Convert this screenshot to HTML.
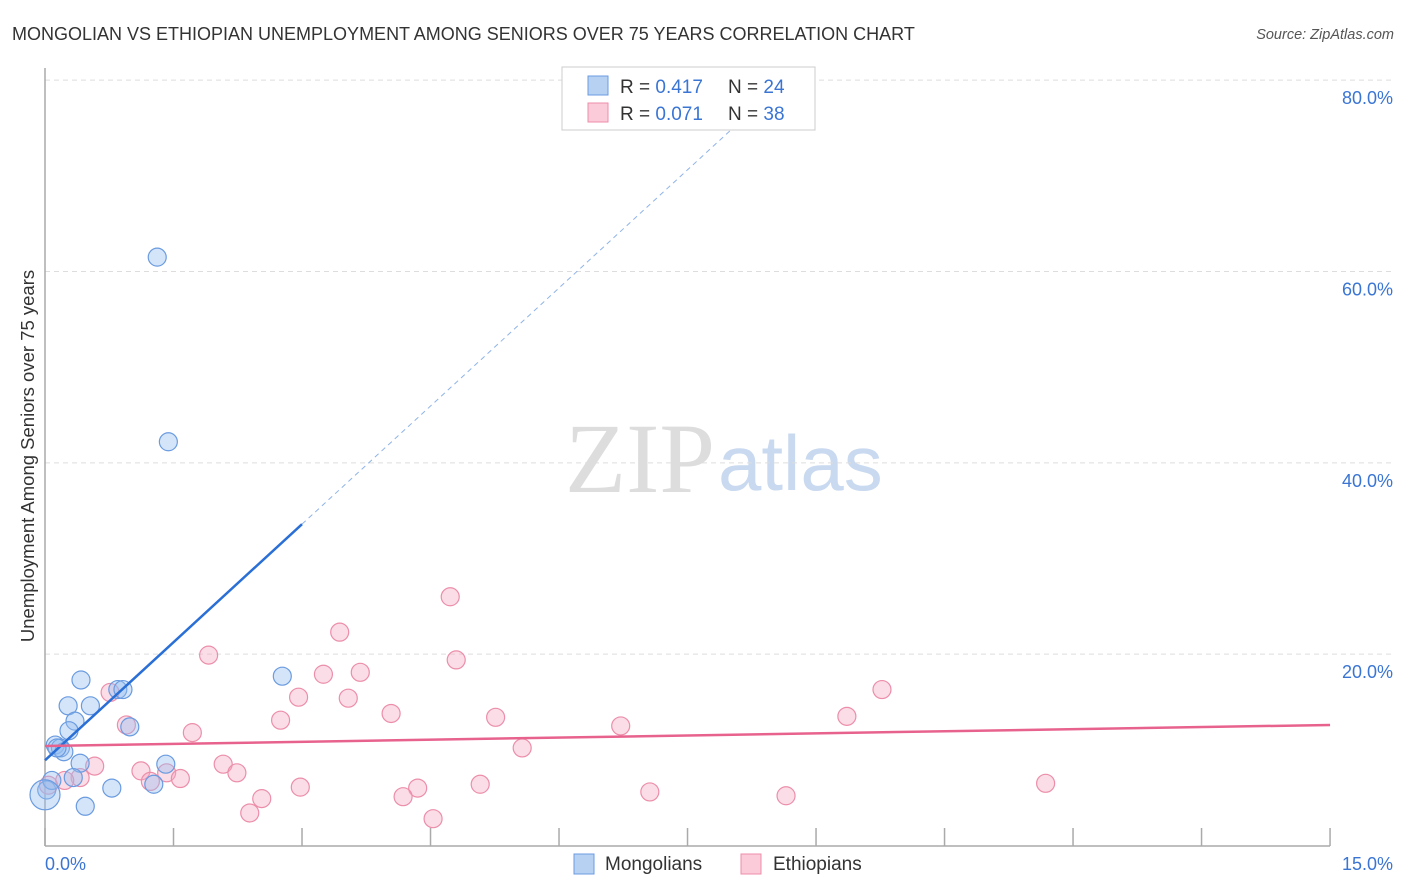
<!DOCTYPE html>
<html><head><meta charset="utf-8"><style>
body{margin:0;background:#fff;font-family:"Liberation Sans",sans-serif;}
#wrap{position:relative;width:1406px;height:892px;overflow:hidden}
</style></head><body>
<div id="wrap">
<svg id="svg" width="1406" height="892" xmlns="http://www.w3.org/2000/svg" font-family="Liberation Sans, sans-serif">
<text x="12" y="40" font-size="18" fill="#333">MONGOLIAN VS ETHIOPIAN UNEMPLOYMENT AMONG SENIORS OVER 75 YEARS CORRELATION CHART</text>
<text x="1394" y="39" font-size="14.5" fill="#555" font-style="italic" text-anchor="end">Source: ZipAtlas.com</text>
<text x="715" y="492" font-size="100" fill="#ddd" text-anchor="end" font-family="Liberation Serif, serif">ZIP</text>
<text x="718" y="490" font-size="78" fill="#c9d9ef">atlas</text>
<g id="grid"></g><g id="axes"></g><g id="marks"></g>
<text x="34" y="456" font-size="18.5" fill="#333" text-anchor="middle" transform="rotate(-90 34 456)">Unemployment Among Seniors over 75 years</text>
<g>
<rect x="562" y="67" width="253" height="63" fill="#fff" stroke="#ccc"/>
<rect x="588" y="76" width="20" height="19" fill="#b7d1f3" stroke="#6a9be0"/>
<rect x="588" y="103" width="20" height="19" fill="#fbcbda" stroke="#ec8eaa"/>
<text x="620" y="93" font-size="19" fill="#333">R = <tspan fill="#3a75d4">0.417</tspan></text>
<text x="728" y="93" font-size="19" fill="#333">N = <tspan fill="#3a75d4">24</tspan></text>
<text x="620" y="120" font-size="19" fill="#333">R = <tspan fill="#3a75d4">0.071</tspan></text>
<text x="728" y="120" font-size="19" fill="#333">N = <tspan fill="#3a75d4">38</tspan></text>
</g>
<g>
<rect x="574" y="854" width="20" height="20" fill="#b7d1f3" stroke="#6a9be0"/>
<text x="605" y="870" font-size="19" fill="#333">Mongolians</text>
<rect x="741" y="854" width="20" height="20" fill="#fbcbda" stroke="#ec8eaa"/>
<text x="773" y="870" font-size="19" fill="#333">Ethiopians</text>
</g>
</svg>
</div>
<script>
const yTicks=[20,40,60,80];
const yTickLabels=["20.0%","40.0%","60.0%","80.0%"];
const xTickLabels=["0.0%","15.0%"];
const monX=[1.31,1.44,2.77,0.42,0.85,0.91,0.27,0.53,0.35,0.99,0.28,0.12,0.18,0.22,0.14,0.41,1.41,1.27,0.78,0.47,0.33,0.02,0.08,0.0];
const monY=[61.5,42.2,17.7,17.3,16.3,16.3,14.6,14.6,13.0,12.4,12.0,10.5,10.2,9.8,10.2,8.6,8.5,6.4,6.0,4.1,7.1,5.8,6.8,5.3];
const ethX=[4.73,3.44,1.91,4.80,3.25,3.68,2.96,3.54,0.76,9.77,0.95,2.75,4.04,5.26,9.36,6.72,1.72,5.57,2.08,2.24,1.12,1.23,1.42,1.58,0.58,0.41,0.23,2.98,5.08,4.35,4.18,2.53,2.39,4.53,7.06,8.65,11.68,0.04];
const ethY=[26.0,22.3,19.9,19.4,17.9,18.1,15.5,15.4,16.0,16.3,12.6,13.1,13.8,13.4,13.5,12.5,11.8,10.2,8.5,7.6,7.8,6.7,7.6,7.0,8.3,7.1,6.8,6.1,6.4,6.0,5.1,4.9,3.4,2.8,5.6,5.2,6.5,6.3];
const monTrend=[8.9,8.23]; // intercept, slope
const ethTrend=[10.4,12.6]; // y at x=0, y at x=15
const NS="http://www.w3.org/2000/svg";
const X=v=>45+v*85.67, Y=v=>845.5-v*9.567;
function mk(t,a,p){const e=document.createElementNS(NS,t);for(const k in a)e.setAttribute(k,a[k]);p.appendChild(e);return e;}
const grid=document.getElementById('grid'),axes=document.getElementById('axes'),marks=document.getElementById('marks');
yTicks.forEach((t,i)=>{
 const l=mk('line',{x1:45,x2:1393,y1:Y(t),y2:Y(t),stroke:'#ddd','stroke-dasharray':'5,4'},grid);
 
 
 const tx=mk('text',{x:1393,y:Y(t)+24,'font-size':18,fill:'#3a75d4','text-anchor':'end'},grid);
 tx.textContent=yTickLabels[i];
 
 
});
mk('line',{x1:45,x2:45,y1:68,y2:846,stroke:'#aaa','stroke-width':1.5},axes);
mk('line',{x1:45,x2:1330,y1:846,y2:846,stroke:'#aaa','stroke-width':1.5},axes);
for(let i=0;i<=10;i++){mk('line',{x1:X(i*1.5),x2:X(i*1.5),y1:828,y2:846,stroke:'#aaa','stroke-width':1.5},axes);}
let t0=mk('text',{x:45,y:870,'font-size':18,fill:'#3a75d4'},axes);t0.textContent=xTickLabels[0];


let t1=mk('text',{x:1393,y:870,'font-size':18,fill:'#3a75d4','text-anchor':'end'},axes);t1.textContent=xTickLabels[1];


ethX.forEach((x,i)=>{const c=mk('circle',{cx:X(x),cy:Y(ethY[i]),r:9,fill:'rgba(246,170,195,0.4)',stroke:'#ec8eaa','stroke-width':1.2},marks);
 
 });
monX.forEach((x,i)=>{const c=mk('circle',{cx:X(x),cy:Y(monY[i]),r:i==monX.length-1?15:9,fill:'rgba(150,190,240,0.4)',stroke:'#6a9be0','stroke-width':1.2},marks);
 
 });
const mt=x=>monTrend[0]+monTrend[1]*x;
let a=mk('line',{x1:X(0),y1:Y(mt(0)),x2:X(3),y2:Y(mt(3)),stroke:'#2a6fd6','stroke-width':2.5},marks);


let b=mk('line',{x1:X(3),y1:Y(mt(3)),x2:X(8.1),y2:Y(mt(8.1)),stroke:'#8fb3e8','stroke-width':1,'stroke-dasharray':'5,4'},marks);


let c=mk('line',{x1:X(0),y1:Y(ethTrend[0]),x2:X(15),y2:Y(ethTrend[1]),stroke:'#e8628e','stroke-width':2.5},marks);


</script>
</body></html>
